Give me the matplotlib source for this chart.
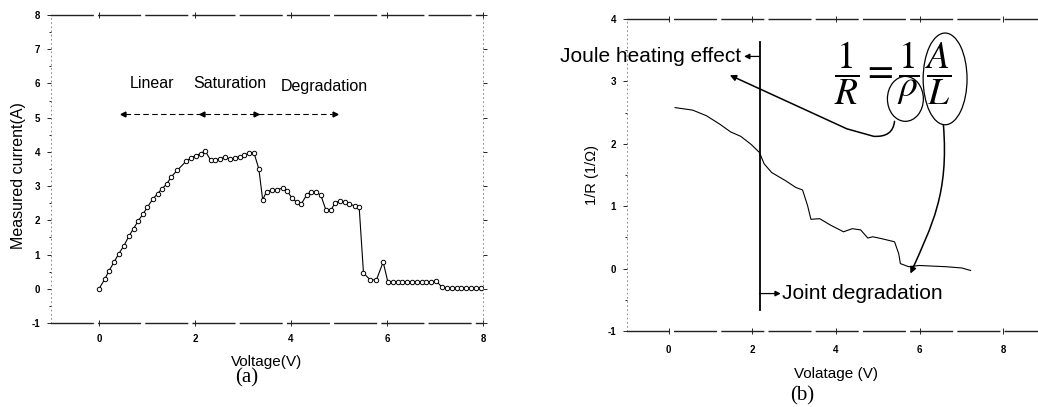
import numpy as np
import matplotlib
matplotlib.use("Agg")
import matplotlib.pyplot as plt
from matplotlib.patches import Ellipse, FancyArrowPatch
from matplotlib.path import Path
from matplotlib.ticker import MultipleLocator

plt.rcParams['font.family'] = ['Liberation Sans', 'DejaVu Sans']
plt.rcParams['mathtext.fontset'] = 'stix'
plt.rcParams['axes.unicode_minus'] = False

# (a) measured current vs voltage
volt_a = [0.00, 0.12, 0.21, 0.31, 0.41, 0.52, 0.62, 0.72, 0.82, 0.92, 1.01, 1.12,
          1.22, 1.31, 1.41, 1.51, 1.63, 1.81, 1.91, 2.02, 2.12, 2.21, 2.33, 2.42,
          2.52, 2.62, 2.73, 2.83, 2.93, 3.02, 3.12, 3.23, 3.33, 3.41, 3.49, 3.60,
          3.71, 3.83, 3.92, 4.02, 4.12, 4.21, 4.33, 4.42, 4.52, 4.62, 4.73, 4.83,
          4.92, 5.02, 5.12, 5.21, 5.33, 5.42, 5.51, 5.65, 5.78, 5.92, 6.02, 6.12,
          6.22, 6.32, 6.42, 6.52, 6.62, 6.72, 6.82, 6.92, 7.03, 7.15, 7.25, 7.35,
          7.45, 7.55, 7.65, 7.75, 7.85, 7.95]
curr_a = [0.00, 0.28, 0.53, 0.77, 1.02, 1.26, 1.53, 1.76, 1.99, 2.19, 2.39, 2.62,
          2.78, 2.92, 3.06, 3.28, 3.46, 3.72, 3.82, 3.89, 3.95, 4.03, 3.75, 3.77,
          3.79, 3.85, 3.79, 3.82, 3.86, 3.90, 3.96, 3.97, 3.50, 2.60, 2.84, 2.88,
          2.90, 2.94, 2.86, 2.65, 2.53, 2.47, 2.75, 2.84, 2.82, 2.74, 2.29, 2.29,
          2.52, 2.56, 2.54, 2.48, 2.42, 2.39, 0.46, 0.26, 0.26, 0.78, 0.19, 0.21,
          0.21, 0.21, 0.21, 0.21, 0.21, 0.21, 0.21, 0.21, 0.22, 0.04, 0.02, 0.02,
          0.02, 0.02, 0.02, 0.02, 0.02, 0.01]

stage_names = ['Linear', 'Saturation', 'Degradation']
stage_x = [1.10, 2.73, 4.69]
stage_y = [6.0, 6.0, 5.92]

# (b) 1/R vs voltage
volt_b = [0.15, 0.57, 0.90, 1.23, 1.48, 1.72, 1.97, 2.17, 2.28, 2.46, 2.79, 3.04,
          3.20, 3.32, 3.40, 3.61, 3.86, 4.18, 4.39, 4.59, 4.76, 4.88, 5.09, 5.40,
          5.50, 5.54, 5.74, 5.99, 6.64, 7.01, 7.22]
inv_r = [2.58, 2.54, 2.45, 2.31, 2.19, 2.12, 1.99, 1.86, 1.68, 1.54, 1.41, 1.30,
         1.26, 1.01, 0.79, 0.80, 0.70, 0.59, 0.64, 0.62, 0.49, 0.51, 0.48, 0.43,
         0.24, 0.08, 0.03, 0.05, 0.03, 0.01, -0.03]

fig = plt.figure(figsize=(10.38, 4.07), dpi=100)
W, H = 1038, 407


def px_axes(l, t, r, b):
    return fig.add_axes([l / W, 1 - b / H, (r - l) / W, (b - t) / H])


def style_axes(ax):
    for s in ['top', 'bottom']:
        ax.spines[s].set_linestyle((0, (30, 4)))
        ax.spines[s].set_linewidth(1.0)
        ax.spines[s].set_color('#222222')
    for s in ['left', 'right']:
        ax.spines[s].set_linestyle((0, (1, 4)))
        ax.spines[s].set_linewidth(0.6)
        ax.spines[s].set_color('#777777')
    ax.tick_params(which='both', labelsize=7, width=0.6)
    for lab in ax.get_xticklabels() + ax.get_yticklabels():
        lab.set_fontweight('bold')


# ---- panel (a)
ax1 = px_axes(51, 15, 483, 323)
ax1.plot(volt_a, curr_a, color='black', lw=0.8, marker='o', ms=3.2,
         mfc='white', mec='black', mew=0.7)
ax1.set_xlim(-1, 8)
ax1.set_ylim(-1, 8)
ax1.set_xticks([0, 2, 4, 6, 8])
ax1.set_yticks(range(-1, 9))
ax1.yaxis.set_minor_locator(MultipleLocator(0.5))
ax1.tick_params(axis='y', which='major', direction='out', length=3, pad=5)
ax1.tick_params(axis='y', which='minor', direction='out', length=1.5)
ax1.tick_params(axis='x', which='major', direction='inout', length=4, pad=6,
                top=True)
ax1.tick_params(axis='y', right=True)
style_axes(ax1)

for name, x, y in zip(stage_names, stage_x, stage_y):
    ax1.text(x, y, name, ha='center', va='center', fontsize=11.5)
ax1.plot([0.55, 4.85], [5.1, 5.1], color='black', lw=0.8, ls=(0, (5, 3)))
for x, m in [(0.5, '<'), (2.14, '<'), (3.28, '>'), (4.92, '>')]:
    ax1.plot(x, 5.1, marker=m, color='black', ms=3.5)

ax1.set_xlabel('Voltage(V)', fontsize=11)
ax1.xaxis.set_label_coords(0.5, -0.105)
ax1.set_ylabel('Measured current(A)', fontsize=11.5)
ax1.yaxis.set_label_coords(-0.058, 0.48)
fig.text(247 / W, 1 - 378 / H, '(a)', family='Liberation Serif', fontsize=15,
         ha='center', va='center')

# ---- panel (b)
ax2 = px_axes(627, 19, 1045, 331)
ax2.plot(volt_b, inv_r, color='black', lw=0.8)
ax2.set_xlim(-1, 9)
ax2.set_ylim(-1, 4)
ax2.set_xticks([0, 2, 4, 6, 8])
ax2.set_yticks(range(-1, 5))
ax2.yaxis.set_minor_locator(MultipleLocator(0.5))
ax2.tick_params(axis='y', which='major', direction='out', length=3, pad=5)
ax2.tick_params(axis='y', which='minor', direction='out', length=1.5)
ax2.tick_params(axis='x', which='major', direction='inout', length=4, pad=8,
                top=True)
style_axes(ax2)
ax2.spines['right'].set_visible(False)

ax2.plot([2.17, 2.17], [3.63, -0.66], color='black', lw=1.3)
ax2.annotate('', xy=(1.80, 3.40), xytext=(2.17, 3.40),
             arrowprops=dict(arrowstyle='-|>', color='black', lw=0.9,
                             mutation_scale=8, shrinkA=0, shrinkB=0))
ax2.text(1.74, 3.40, 'Joule heating effect', ha='right', va='center',
         fontsize=15, clip_on=False)
ax2.annotate('', xy=(2.68, -0.40), xytext=(2.17, -0.40),
             arrowprops=dict(arrowstyle='-|>', color='black', lw=0.9,
                             mutation_scale=8, shrinkA=0, shrinkB=0))
ax2.text(2.70, -0.40, 'Joint degradation', ha='left', va='center',
         fontsize=15)

ax2.text(5.35, 3.14, r'$\dfrac{1}{R}=\dfrac{1}{\rho}\,\dfrac{A}{L}$',
         ha='center', va='center', fontsize=27)
ax2.add_patch(Ellipse((5.66, 2.72), 0.86, 0.72, fill=False, color='black', lw=0.9))
ax2.add_patch(Ellipse((6.61, 3.04), 1.05, 1.47, fill=False, color='black', lw=0.9))

p1 = Path([(5.40, 2.36), (5.36, 2.10), (4.90, 2.12), (4.26, 2.24), (1.46, 3.10)],
          [Path.MOVETO, Path.CURVE3, Path.CURVE3, Path.LINETO, Path.LINETO])
ax2.add_patch(FancyArrowPatch(path=p1, arrowstyle='-|>', mutation_scale=9,
                              color='black', lw=1.1))
p2 = Path([(6.57, 2.30), (6.70, 1.20), (6.30, 0.70), (5.78, -0.08)],
          [Path.MOVETO, Path.CURVE4, Path.CURVE4, Path.CURVE4])
ax2.add_patch(FancyArrowPatch(path=p2, arrowstyle='-|>', mutation_scale=9,
                              color='black', lw=1.1))

ax2.set_xlabel('Volatage (V)', fontsize=11)
ax2.xaxis.set_label_coords((836 - 627) / 418, -0.115)
ax2.set_ylabel('1/R (1/\u03a9)', fontsize=10.5)
ax2.yaxis.set_label_coords(-0.067, 0.5)
fig.text(802 / W, 1 - 396 / H, '(b)', family='Liberation Serif', fontsize=15,
         ha='center', va='center')

fig.savefig('out.png', dpi=100)
